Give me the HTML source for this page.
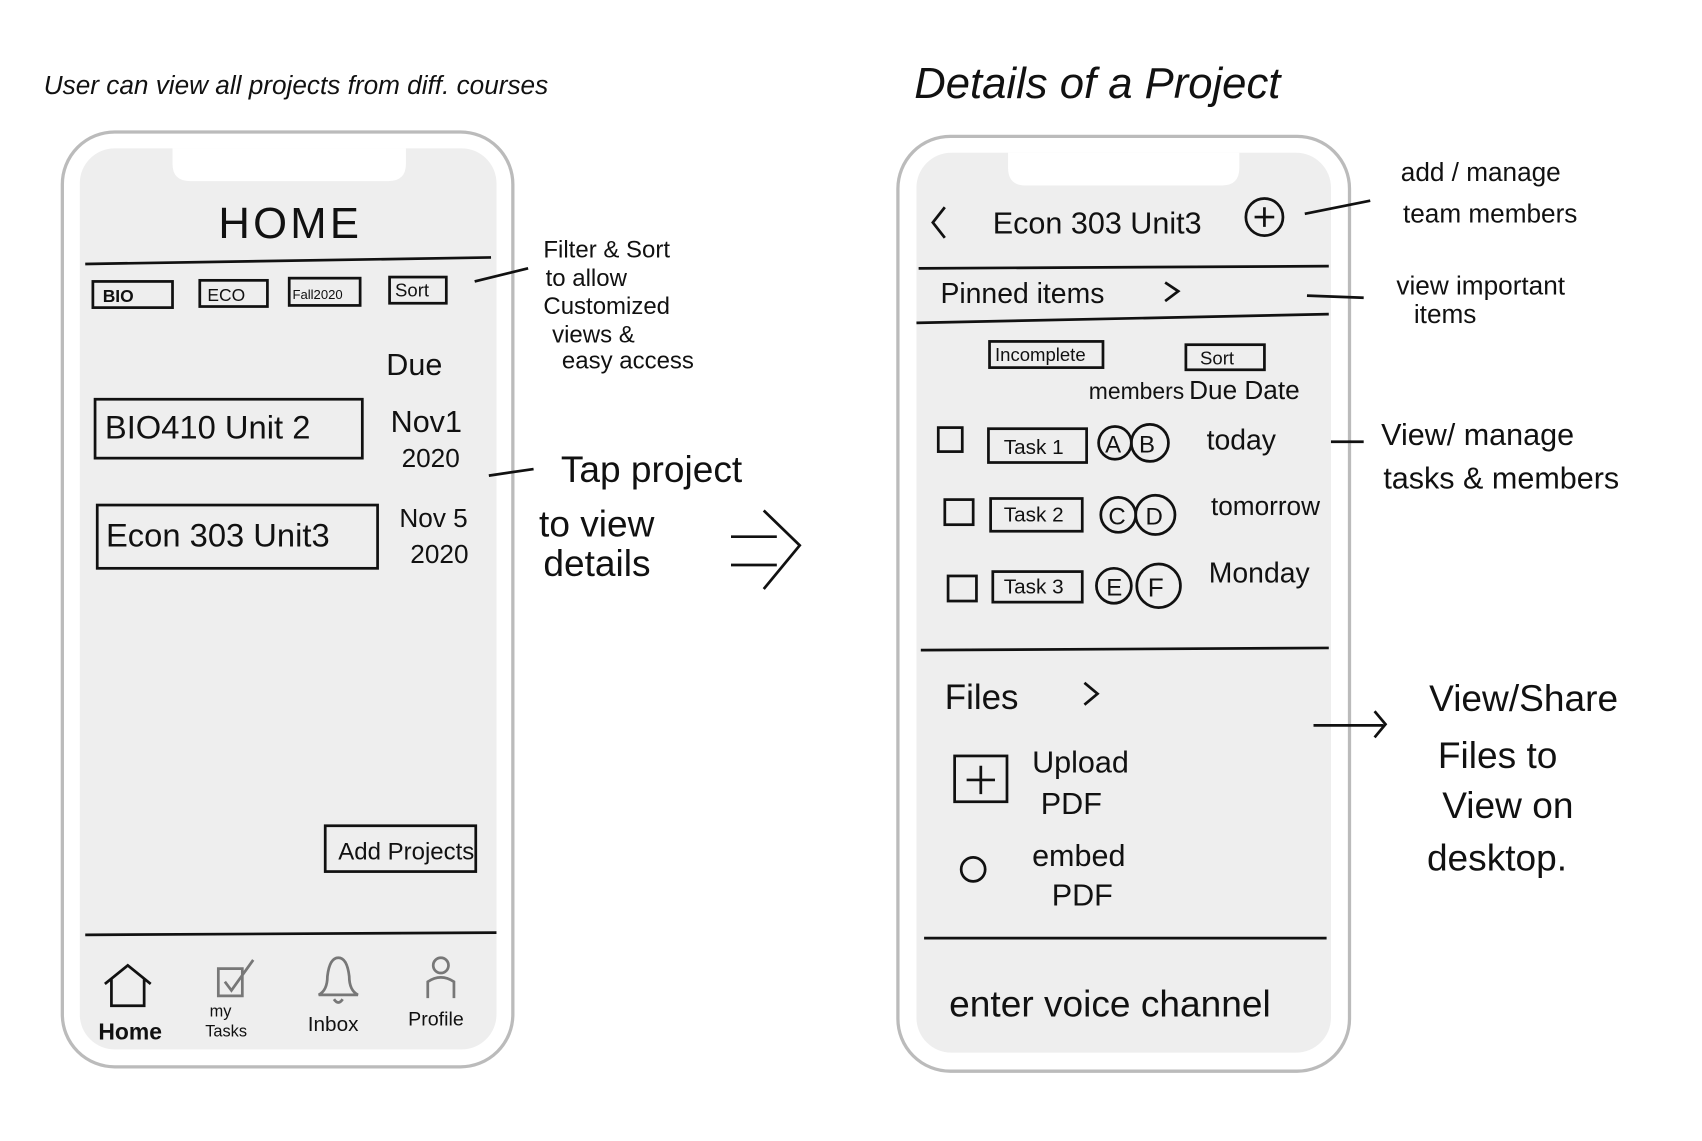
<!DOCTYPE html>
<html><head><meta charset="utf-8"><style>
html,body{margin:0;padding:0;background:#fff;}
svg{display:block}
text{font-family:"Liberation Sans",sans-serif;fill:#111}
</style></head><body>
<svg width="1702" height="1141" viewBox="0 0 1560 1046" xmlns="http://www.w3.org/2000/svg">
<g fill="none" stroke="#111" stroke-width="2.5">
<!-- phone 1 -->
<rect x="57" y="121" width="413" height="857" rx="48" fill="#fff" stroke="#bbb" stroke-width="3"/>
<rect x="73" y="136" width="382" height="826" rx="32" fill="#eee" stroke="none"/>
<path d="M158 136 H372 V150 Q372 166 356 166 H174 Q158 166 158 150 Z" fill="#fff" stroke="none"/>
<!-- phone 2 -->
<rect x="823" y="125" width="414" height="857" rx="48" fill="#fff" stroke="#bbb" stroke-width="3"/>
<rect x="840" y="140" width="380" height="825" rx="32" fill="#eee" stroke="none"/>
<path d="M924 140 H1136 V154 Q1136 170 1120 170 H940 Q924 170 924 154 Z" fill="#fff" stroke="none"/>

<!-- phone1 content -->
<line x1="78" y1="242" x2="450" y2="236"/>
<rect x="85" y="258" width="73" height="24"/>
<rect x="183" y="257" width="62" height="24"/>
<rect x="265" y="255" width="65" height="25"/>
<rect x="357" y="254" width="52" height="24"/>
<rect x="87" y="366" width="245" height="54"/>
<rect x="89" y="463" width="257" height="58"/>
<rect x="298" y="757" width="138" height="42"/>
<line x1="78" y1="857" x2="455" y2="855"/>
<path d="M96 902 L117 885 L138 902 M102 898 V922 H132 V898"/>
<path d="M200 888 H222 V913 H200 Z M206 900 L212 908 L232 880" stroke="#777"/>
<path d="M292 912 Q300 908 300 895 Q302 878 310 878 Q318 878 320 895 Q320 908 328 912 Z M306 916 Q310 922 314 916" stroke="#777"/>
<circle cx="404" cy="885" r="7" stroke="#777"/>
<path d="M392 915 V900 Q404 892 416 900 V915" stroke="#777"/>
<line x1="435" y1="258" x2="484" y2="246"/>
<line x1="448" y1="436" x2="489" y2="430"/>
<path d="M670 492 H712 M670 518 H712 M700 468 L733 500 L700 540"/>

<!-- phone2 content -->
<path d="M866 190 L855 204 L866 218"/>
<circle cx="1159" cy="199" r="17"/>
<path d="M1159 190 V208 M1150 199 H1168"/>
<line x1="1196" y1="196" x2="1256" y2="184"/>
<line x1="842" y1="246" x2="1218" y2="244"/>
<path d="M1068 259 L1080 267 L1068 276"/>
<line x1="840" y1="296" x2="1218" y2="288"/>
<line x1="1198" y1="271" x2="1250" y2="273"/>
<rect x="907" y="313" width="104" height="24"/>
<rect x="1087" y="316" width="72" height="23"/>
<rect x="860" y="392" width="22" height="22"/>
<rect x="906" y="393" width="90" height="31"/>
<circle cx="1022" cy="406" r="15"/><circle cx="1054" cy="406" r="17"/>
<rect x="866" y="458" width="26" height="23"/>
<rect x="908" y="457" width="84" height="30"/>
<circle cx="1025" cy="472" r="16"/><circle cx="1059" cy="472" r="18"/>
<rect x="869" y="528" width="26" height="23"/>
<rect x="910" y="524" width="82" height="28"/>
<circle cx="1021" cy="537" r="16"/><circle cx="1062" cy="537" r="20"/>
<line x1="1220" y1="405" x2="1250" y2="405"/>
<line x1="844" y1="596" x2="1218" y2="594"/>
<path d="M994 626 L1006 636 L994 646"/>
<path d="M1204 665 H1268 M1260 652 L1270 664 L1260 676"/>
<rect x="875" y="693" width="48" height="42"/>
<path d="M899 702 V728 M886 715 H912"/>
<circle cx="892" cy="797" r="11"/>
<line x1="847" y1="860" x2="1216" y2="860"/>
</g>

<g>
<text x="40" y="86" font-size="24" font-style="italic">User can view all projects from diff. courses</text>
<text x="838" y="90" font-size="40" font-style="italic">Details of a Project</text>
<text x="200" y="218" font-size="40" letter-spacing="3">HOME</text>
<text x="94" y="277" font-size="16" font-weight="bold">BIO</text>
<text x="190" y="276" font-size="16">ECO</text>
<text x="268" y="274" font-size="12">Fall2020</text>
<text x="362" y="272" font-size="17">Sort</text>
<text x="354" y="344" font-size="28">Due</text>
<text x="96" y="402" font-size="30">BIO410 Unit 2</text>
<text x="358" y="396" font-size="28">Nov1</text>
<text x="368" y="428" font-size="24">2020</text>
<text x="97" y="501" font-size="30">Econ 303 Unit3</text>
<text x="366" y="483" font-size="24">Nov 5</text>
<text x="376" y="516" font-size="24">2020</text>
<text x="310" y="788" font-size="22">Add Projects</text>
<text x="90" y="953" font-size="21" font-weight="bold">Home</text>
<text x="192" y="932" font-size="15" fill="#777">my</text>
<text x="188" y="950" font-size="15" fill="#777">Tasks</text>
<text x="282" y="945" font-size="19" fill="#777">Inbox</text>
<text x="374" y="940" font-size="18" fill="#777">Profile</text>
<text x="498" y="236" font-size="22">Filter &amp; Sort</text>
<text x="500" y="262" font-size="22">to allow</text>
<text x="498" y="288" font-size="22">Customized</text>
<text x="506" y="314" font-size="22">views &amp;</text>
<text x="515" y="338" font-size="22">easy access</text>
<text x="514" y="442" font-size="34">Tap project</text>
<text x="494" y="492" font-size="34">to view</text>
<text x="498" y="528" font-size="34">details</text>

<text x="910" y="214" font-size="28">Econ 303 Unit3</text>
<text x="862" y="278" font-size="26">Pinned items</text>
<text x="1284" y="166" font-size="24">add / manage</text>
<text x="1286" y="204" font-size="24">team members</text>
<text x="1280" y="270" font-size="24">view important</text>
<text x="1296" y="296" font-size="24">items</text>
<text x="912" y="331" font-size="17">Incomplete</text>
<text x="1100" y="334" font-size="17">Sort</text>
<text x="998" y="366" font-size="21">members</text>
<text x="1090" y="366" font-size="24">Due Date</text>
<text x="920" y="416" font-size="19">Task 1</text>
<text x="1013" y="415" font-size="22">A</text><text x="1044" y="415" font-size="22">B</text>
<text x="1106" y="412" font-size="26">today</text>
<text x="920" y="478" font-size="19">Task 2</text>
<text x="1016" y="481" font-size="22">C</text><text x="1050" y="481" font-size="22">D</text>
<text x="1110" y="472" font-size="24">tomorrow</text>
<text x="920" y="544" font-size="19">Task 3</text>
<text x="1014" y="546" font-size="22">E</text><text x="1052" y="547" font-size="24">F</text>
<text x="1108" y="534" font-size="26">Monday</text>
<text x="1266" y="408" font-size="28">View/ manage</text>
<text x="1268" y="448" font-size="28">tasks &amp; members</text>
<text x="866" y="650" font-size="32">Files</text>
<text x="946" y="708" font-size="28">Upload</text>
<text x="954" y="746" font-size="28">PDF</text>
<text x="946" y="794" font-size="28">embed</text>
<text x="964" y="830" font-size="28">PDF</text>
<text x="870" y="932" font-size="34">enter voice channel</text>
<text x="1310" y="652" font-size="34">View/Share</text>
<text x="1318" y="704" font-size="34">Files to</text>
<text x="1322" y="750" font-size="34">View on</text>
<text x="1308" y="798" font-size="34">desktop.</text>
</g>
</svg>
</body></html>
